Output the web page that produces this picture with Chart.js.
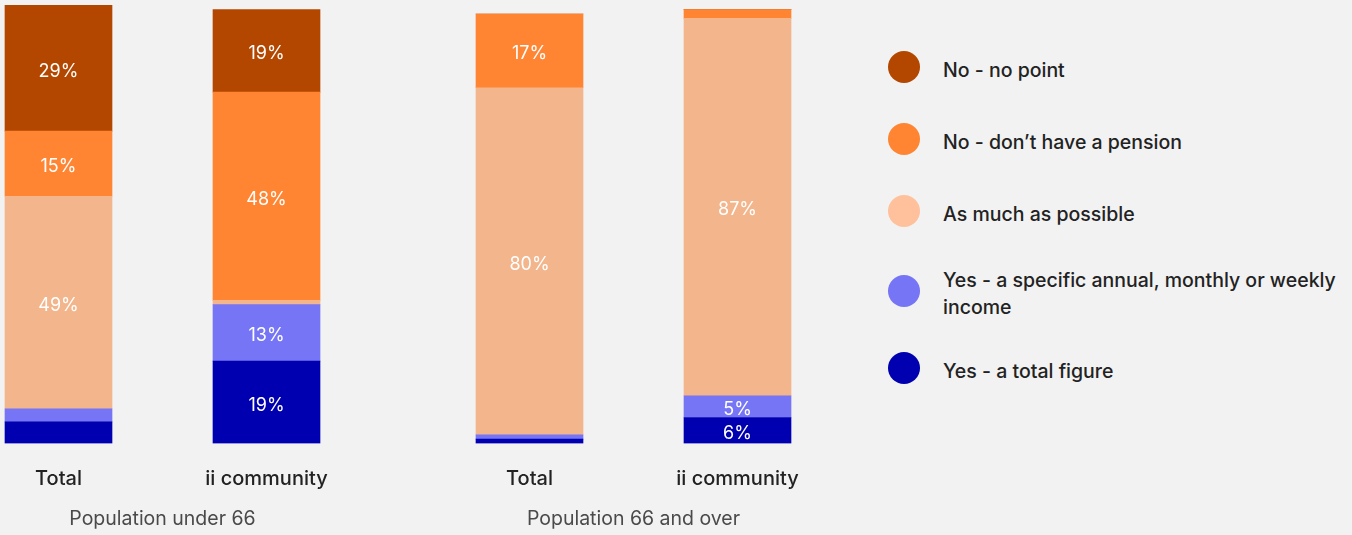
<!DOCTYPE html>
<html>
<head>
<meta charset="utf-8">
<title>Pension saving</title>
<script src="https://cdn.jsdelivr.net/npm/chart.js@4.4.1/dist/chart.umd.min.js"></script>
<style>
  html, body { margin: 0; padding: 0; background: #f2f2f2; }
  body { width: 1352px; height: 535px; position: relative; overflow: hidden; font-family: Inter, "Noto Sans", sans-serif; }
  #chartBox { position: absolute; left: 0; top: 0; width: 860px; height: 535px; }
  #legend { position: absolute; left: 888px; top: 51px; width: 460px; margin: 0; padding: 0; list-style: none; }
  #legend li { display: flex; align-items: center; min-height: 32px; margin-bottom: 40px; }
  #legend li.wrap { margin-top: -3px; margin-bottom: 34px; }
  #legend .dot { flex: 0 0 32px; height: 32px; border-radius: 50%; margin-right: 23px; }
  #legend .txt { font-size: 19.5px; font-weight: 500; line-height: 27px; color: #222; position: relative; top: 3px; width: 405px; }
</style>
</head>
<body>
<div id="chartBox"><canvas id="chart"></canvas></div>
<ul id="legend"></ul>
<script>
const groups = ['Population under 66', 'Population 66 and over'];
const subgroups = ['Total', 'ii community'];

// one value per bar: under 66 Total, under 66 ii community, 66+ Total, 66+ ii community
const totalFigure     = [5, 19, 1, 6];
const specificIncome  = [3, 13, 1, 5];
const asMuchAsPossible = [49, 1, 80, 87];
const noPension       = [15, 48, 17, 2];
const noPoint         = [29, 19, 0, 0];

// which segments carry a percentage label
const totalFigureShown     = [false, true, false, true];
const specificIncomeShown  = [false, true, false, true];
const asMuchAsPossibleShown = [true, false, true, true];
const noPensionShown       = [true, true, true, false];
const noPointShown         = [true, true, false, false];

// bottom of the stack first
const series = [
  { name: 'Yes - a total figure', values: totalFigure, shown: totalFigureShown, color: '#0000b0', dot: '#0000b0' },
  { name: 'Yes - a specific annual, monthly or weekly income', values: specificIncome, shown: specificIncomeShown, color: '#7575f5', dot: '#7575f5' },
  { name: 'As much as possible', values: asMuchAsPossible, shown: asMuchAsPossibleShown, color: '#f3b58b', dot: '#ffc19c' },
  { name: 'No - don’t have a pension', values: noPension, shown: noPensionShown, color: '#ff8533', dot: '#ff8533' },
  { name: 'No - no point', values: noPoint, shown: noPointShown, color: '#b34700', dot: '#b34700' }
];

// horizontal layout (px): pitch between bars of a group, pitch between groups, first bar centre
const SLOT_PX = 208, GROUP_PX = 471, FIRST_PX = 58.5, CANVAS_W = 860;
const groupStep = GROUP_PX / SLOT_PX;
const slots = [];
groups.forEach((g, gi) => subgroups.forEach((s, si) => slots.push(gi * groupStep + si)));
const groupMids = groups.map((g, gi) => gi * groupStep + (subgroups.length - 1) / 2);
const xMin = -FIRST_PX / SLOT_PX;
const xMax = (CANVAS_W - FIRST_PX) / SLOT_PX;

Chart.defaults.font.family = 'Inter, "Noto Sans", sans-serif';

const segmentLabels = {
  id: 'segmentLabels',
  afterDatasetsDraw(chart) {
    const { ctx } = chart;
    ctx.save();
    ctx.font = '400 18px Inter, "Noto Sans", sans-serif';
    ctx.fillStyle = '#ffffff';
    ctx.textAlign = 'center';
    ctx.textBaseline = 'middle';
    chart.data.datasets.forEach((ds, i) => {
      chart.getDatasetMeta(i).data.forEach((bar, j) => {
        if (!ds.shown[j]) return;
        const { x, y, base } = bar.getProps(['x', 'y', 'base'], true);
        ctx.fillText(ds.data[j].y + '%', x, (y + base) / 2 + 3);
      });
    });
    ctx.restore();
  }
};

// fixed band heights for the two label rows, no extra side padding
const fitBand = h => scale => {
  scale.height = h;
  scale.paddingLeft = 0;
  scale.paddingRight = 0;
};

new Chart(document.getElementById('chart'), {
  type: 'bar',
  data: {
    datasets: series.map(s => ({
      label: s.name,
      data: s.values.map((v, i) => ({ x: slots[i], y: v })),
      shown: s.shown,
      backgroundColor: s.color,
      borderWidth: 0,
      barThickness: 107
    }))
  },
  options: {
    responsive: true,
    maintainAspectRatio: false,
    animation: false,
    layout: { padding: { top: 1, left: 0, right: 0, bottom: 0 } },
    plugins: { legend: { display: false }, tooltip: { enabled: false } },
    scales: {
      x: {
        type: 'linear', stacked: true, offset: false, min: xMin, max: xMax, weight: 0,
        grid: { display: false, drawTicks: false, offset: false }, border: { display: false },
        afterBuildTicks: scale => { scale.ticks = slots.map(v => ({ value: v })); },
        afterFit: fitBand(50),
        ticks: {
          autoSkip: false, maxRotation: 0, padding: 23,
          font: { size: 20, weight: 500 }, color: '#222',
          callback: (v, i) => subgroups[i % subgroups.length]
        }
      },
      xg: {
        type: 'linear', axis: 'x', position: 'bottom', offset: false, min: xMin, max: xMax, weight: 1,
        grid: { display: false, drawTicks: false }, border: { display: false },
        afterBuildTicks: scale => { scale.ticks = groupMids.map(v => ({ value: v })); },
        afterFit: fitBand(41.5),
        ticks: {
          autoSkip: false, maxRotation: 0, padding: 14,
          font: { size: 19.5, weight: 400 }, color: '#4a4a4a',
          callback: (v, i) => groups[i]
        }
      },
      y: { stacked: true, min: 0, max: 102, display: false }
    }
  },
  plugins: [segmentLabels]
});

// legend, top of the stack first
const legend = document.getElementById('legend');
series.slice().reverse().forEach(s => {
  const li = document.createElement('li');
  if (s.name.length > 40) li.className = 'wrap';
  const dot = document.createElement('span');
  dot.className = 'dot';
  dot.style.background = s.dot;
  const txt = document.createElement('span');
  txt.className = 'txt';
  txt.textContent = s.name;
  li.appendChild(dot);
  li.appendChild(txt);
  legend.appendChild(li);
});
</script>
</body>
</html>
